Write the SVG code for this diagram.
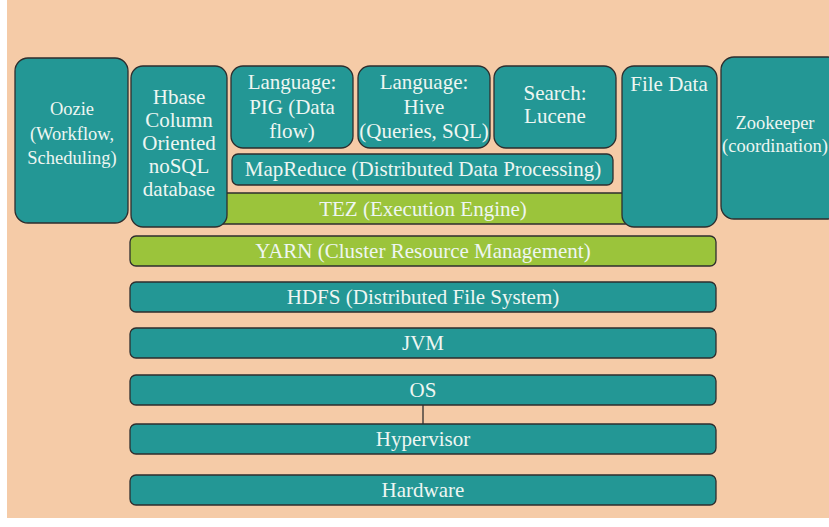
<svg xmlns="http://www.w3.org/2000/svg" width="829" height="527" viewBox="0 0 829 527">
<style>
.t{fill:#239795;stroke:#2e2e2e;stroke-width:1.3}
.g{fill:#9bc43b;stroke:#2e2e2e;stroke-width:1.3}
text{font-family:"Liberation Serif","DejaVu Serif",serif;font-size:21px;fill:#eef6f2;text-anchor:middle;dominant-baseline:central}
.s{font-size:18.5px}
</style>
<rect x="0" y="0" width="829" height="527" fill="#ffffff"/>
<rect x="7" y="0" width="822" height="518" fill="#f5cba7"/>
<g id="connectors">
<line x1="423" y1="405" x2="423" y2="424" stroke="#2e2e2e" stroke-width="1.3"/>
</g>
<g id="tez"><rect class="g" x="215" y="193" width="415" height="31" rx="5"/><text x="423" y="209">TEZ (Execution Engine)</text></g>
<g id="oozie"><rect class="t" x="15" y="58" width="113" height="165" rx="13"/><text class="s" x="72" y="109">Oozie</text><text class="s" x="72" y="134">(Workflow,</text><text class="s" x="72" y="158">Scheduling)</text></g>
<g id="hbase"><rect class="t" x="131" y="66" width="96" height="161" rx="12"/><text x="179" y="97">Hbase</text><text x="179" y="120">Column</text><text x="179" y="143">Oriented</text><text x="179" y="166">noSQL</text><text x="179" y="189">database</text></g>
<g id="pig"><rect class="t" x="231" y="66" width="122" height="82" rx="12"/><text x="292" y="82">Language:</text><text x="292" y="107">PIG (Data</text><text x="292" y="131">flow)</text></g>
<g id="hive"><rect class="t" x="358" y="66" width="132" height="82" rx="12"/><text x="424" y="82">Language:</text><text x="424" y="107">Hive</text><text x="424" y="131">(Queries, SQL)</text></g>
<g id="search"><rect class="t" x="494" y="66" width="122" height="82" rx="12"/><text x="555" y="93">Search:</text><text x="555" y="116">Lucene</text></g>
<g id="mapreduce"><rect class="t" x="232" y="154" width="381" height="31" rx="6"/><text x="423" y="169">MapReduce (Distributed Data Processing)</text></g>
<g id="filedata"><rect class="t" x="622" y="66" width="95" height="161" rx="12"/><text x="669" y="84">File Data</text></g>
<g id="zookeeper"><rect class="t" x="721" y="57" width="120" height="162" rx="13"/><text class="s" x="775" y="123">Zookeeper</text><text class="s" x="775" y="146">(coordination)</text></g>
<g id="yarn"><rect class="g" x="130" y="236" width="586" height="30" rx="6"/><text x="423" y="251">YARN (Cluster Resource Management)</text></g>
<g id="hdfs"><rect class="t" x="130" y="282" width="586" height="30" rx="6"/><text x="423" y="297">HDFS (Distributed File System)</text></g>
<g id="jvm"><rect class="t" x="130" y="328" width="586" height="30" rx="6"/><text x="423" y="343">JVM</text></g>
<g id="os"><rect class="t" x="130" y="375" width="586" height="30" rx="6"/><text x="423" y="390">OS</text></g>
<g id="hypervisor"><rect class="t" x="130" y="424" width="586" height="30" rx="6"/><text x="423" y="439">Hypervisor</text></g>
<g id="hardware"><rect class="t" x="130" y="475" width="586" height="30" rx="6"/><text x="423" y="490">Hardware</text></g>
</svg>
